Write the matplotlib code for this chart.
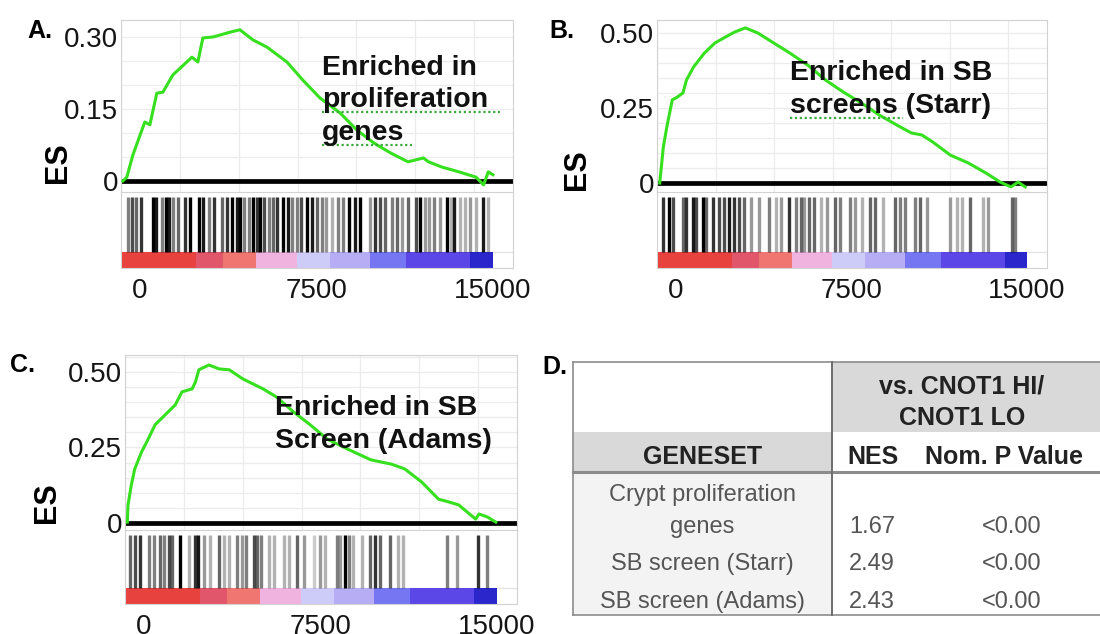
import numpy as np
import matplotlib
matplotlib.use("Agg")
import matplotlib.pyplot as plt
from matplotlib.ticker import MultipleLocator
from matplotlib.patches import Rectangle
from matplotlib.lines import Line2D

plt.rcParams['font.family'] = ['Liberation Sans', 'DejaVu Sans']

W, H = 1100, 634
XLIM = (-800, 15850)
GREEN = '#36e01f'
FRAME = '#d2d2d2'
GRID = '#ececec'

# running enrichment score (rank in ordered list, ES)
prolif_rank = [-720, -552, -297, 212, 425, 722, 977, 1402, 1997, 2210, 2465, 2677, 3102, 3400,
               3825, 4250, 4802, 5397, 6247, 6927, 7650, 8500, 9222, 9945, 10667, 11390, 12040,
               12257, 12835, 13557, 14280, 14600, 14800, 15000]
prolif_es = [0.0, 0.008, 0.054, 0.123, 0.117, 0.183, 0.185, 0.221, 0.248, 0.258, 0.248, 0.298,
             0.300, 0.304, 0.310, 0.315, 0.294, 0.279, 0.248, 0.210, 0.173, 0.142, 0.106, 0.079,
             0.058, 0.040, 0.048, 0.040, 0.029, 0.019, 0.008, -0.008, 0.019, 0.013]

starr_rank = [-683, -529, -380, -149, 77, 307, 457, 764, 1221, 1677, 2134, 2514, 2971, 3504,
              4114, 4874, 5634, 6398, 7157, 7917, 8681, 9441, 10051, 10508, 10965, 11724, 12484,
              13248, 13854, 14311, 14618, 14921]
starr_es = [0.0, 0.12, 0.187, 0.277, 0.287, 0.30, 0.343, 0.387, 0.433, 0.467, 0.487, 0.503,
            0.517, 0.50, 0.47, 0.433, 0.393, 0.343, 0.303, 0.267, 0.227, 0.193, 0.167, 0.16,
            0.137, 0.093, 0.067, 0.033, 0.003, -0.013, 0.003, -0.013]

adams_rank = [-701, -672, -531, -387, -98, 187, 476, 905, 1334, 1619, 2053, 2193, 2337, 2767,
              3196, 3629, 4203, 5062, 5635, 6354, 7068, 7786, 8645, 9647, 10510, 11084, 11798,
              12516, 12945, 13374, 14093, 14237, 14594, 14951]
adams_es = [0.003, 0.06, 0.126, 0.179, 0.235, 0.278, 0.325, 0.358, 0.391, 0.434, 0.444, 0.467,
            0.507, 0.523, 0.51, 0.507, 0.477, 0.444, 0.417, 0.368, 0.325, 0.278, 0.245, 0.209,
            0.195, 0.179, 0.136, 0.079, 0.07, 0.06, 0.013, 0.03, 0.02, 0.003]

# gene set hits along the ranked list, with how dark each tick prints
prolif_hits = [-497, -353, -170, 30, 540, 680, 922, 1105, 1245, 1415, 1628, 1912, 2125, 2520,
               2690, 2945, 3145, 3472, 3710, 3923, 4110, 4250, 4420, 4645, 4790, 4960, 5100,
               5270, 5495, 5665, 5810, 6090, 6277, 6447, 6685, 6830, 7085, 7297, 7510, 7722,
               7905, 8147, 8428, 8640, 8895, 9137, 9350, 9775, 9987, 10200, 10412, 10697,
               10910, 11122, 11403, 11730, 11900, 12112, 12295, 12495, 12750, 13034, 13205,
               13345, 13600, 13812, 14025, 14280, 14564, 14802]
prolif_shade = [0.5, 0.7, 0.6, 0.8, 1.0, 0.9, 0.5, 1.0, 0.9, 0.5, 0.6, 0.8, 1.0, 1.0, 0.9, 0.5,
                0.8, 0.6, 0.8, 1.0, 0.9, 1.0, 0.5, 0.5, 1.0, 0.8, 1.0, 0.7, 0.5, 0.6, 0.8, 1.0,
                0.9, 0.5, 0.5, 0.7, 1.0, 0.9, 0.6, 0.5, 0.4, 0.3, 0.5, 0.5, 1.0, 0.9, 1.0, 0.4,
                0.8, 0.7, 0.6, 0.5, 0.6, 0.4, 0.6, 0.7, 1.0, 0.4, 0.4, 0.5, 0.4, 1.0, 0.3, 0.9,
                0.3, 0.3, 0.4, 0.3, 0.9, 0.3]

starr_hits = [-563, -307, -137, 290, 435, 717, 862, 1144, 1289, 1571, 1857, 2070, 2283, 2497,
              2710, 2923, 3210, 3564, 3991, 4277, 4490, 4844, 5130, 5343, 5484, 5698, 5911,
              6197, 6479, 6807, 7021, 7448, 7661, 7947, 8302, 8515, 8869, 9369, 9582, 9795,
              10222, 10435, 10721, 11724, 12002, 12215, 12570, 13137, 13351, 14362, 14490]
starr_shade = [0.8, 1.0, 0.7, 0.6, 0.8, 0.9, 0.7, 1.0, 0.6, 0.8, 0.7, 0.7, 0.9, 0.8, 0.7, 0.6,
               0.4, 0.4, 0.5, 0.3, 0.4, 0.8, 0.5, 0.6, 0.4, 0.6, 0.6, 0.3, 0.4, 0.6, 0.5, 0.5,
               0.4, 0.3, 0.6, 0.6, 0.3, 0.6, 0.5, 0.5, 0.5, 0.6, 0.4, 0.4, 0.3, 0.3, 0.6, 0.3,
               0.4, 0.6, 0.5]

adams_hits = [-582, -370, -157, 200, 412, 693, 837, 1050, 1190, 1543, 1900, 2180, 2295, 2537,
              2818, 3175, 3387, 3600, 3952, 4165, 4335, 4662, 4802, 4985, 5300, 5512, 5937,
              6150, 6502, 6787, 7212, 7480, 7692, 8190, 8330, 8542, 8725, 8895, 9252, 9605,
              9817, 10030, 10455, 10807, 11020, 12890, 13290, 14207, 14564]
adams_shade = [0.6, 0.7, 0.8, 0.5, 0.5, 0.6, 0.5, 0.7, 0.6, 1.0, 0.3, 0.8, 0.9, 0.4, 0.3, 0.6,
               0.3, 0.3, 0.5, 0.4, 0.5, 0.7, 0.6, 0.5, 0.3, 0.3, 0.3, 0.3, 0.6, 0.4, 0.2, 0.4,
               0.3, 0.5, 0.4, 1.0, 0.5, 0.3, 0.3, 0.6, 0.8, 0.6, 0.6, 0.3, 0.3, 0.5, 0.4, 0.8,
               0.5]

# ranked list metric colour bar (same ranking for every gene set)
rank_edges = [-800, 2400, 3550, 4950, 6680, 8075, 9780, 11320, 14040, 15000]
rank_colors = ['#e8423e', '#e2566c', '#f07672', '#f0b2de', '#cdcbf7', '#b6adf5', '#7676f3',
               '#5b46e8', '#2a26cc']

x_ticks = [0, 7500, 15000]

# summary table
genesets = ['Crypt proliferation\ngenes', 'SB screen (Starr)', 'SB screen (Adams)']
nes_values = [1.67, 2.49, 2.43]
p_values = ['<0.00', '<0.00', '<0.00']


def px_axes(fig, x0, y0, x1, y1):
    return fig.add_axes([x0 / W, 1 - y1 / H, (x1 - x0) / W, (y1 - y0) / H])


def ftext(fig, x, y, s, **kw):
    return fig.text(x / W, 1 - y / H, s, **kw)


def gsea_panel(fig, x0, x1, y_top, y_mid, y_bot, ranks, es, hits, shade, ylim, yticks, ylabels):
    ax = px_axes(fig, x0, y_top, x1, y_mid)
    ax.plot(ranks, es, color=GREEN, lw=2.2, zorder=3)
    ax.axhline(0, color='black', lw=3.4, zorder=2)
    ax.set_xlim(*XLIM)
    ax.set_ylim(*ylim)
    ax.set_xticks([])
    ax.xaxis.set_minor_locator(MultipleLocator(2500, offset=1700))
    ax.set_yticks(yticks)
    ax.set_yticklabels(ylabels, fontsize=20, color='#151515')
    ax.yaxis.set_minor_locator(MultipleLocator(0.05))
    ax.tick_params(which='both', length=0, pad=2)
    ax.grid(which='both', axis='y', color=GRID, lw=0.9)
    ax.grid(which='minor', axis='x', color=GRID, lw=0.9)
    for sp in ax.spines.values():
        sp.set_color(FRAME)
    ax.spines['bottom'].set_visible(False)

    bx = px_axes(fig, x0, y_mid, x1, y_bot)
    bx.set_xlim(*XLIM)
    bx.set_ylim(0, 1)
    cb_h = 0.21
    bx.vlines(hits, cb_h, 0.93, colors=[(0, 0, 0, a) for a in shade], lw=2.4)
    bx.bar(rank_edges[:-1], cb_h, width=np.diff(rank_edges), align='edge',
           color=rank_colors, lw=0)
    bx.axhline(cb_h, color='#e2e2e2', lw=0.9, zorder=0)
    bx.set_yticks([])
    bx.set_xticks(x_ticks)
    bx.set_xticklabels([str(t) for t in x_ticks], fontsize=20, color='#151515')
    bx.tick_params(length=0, pad=7)
    for sp in bx.spines.values():
        sp.set_color(FRAME)
    return ax, bx


fig = plt.figure(figsize=(W / 100, H / 100), dpi=100)

gsea_panel(fig, 121, 513, 20, 192, 268, prolif_rank, prolif_es, prolif_hits, prolif_shade,
           (-0.0229, 0.3354), [0, 0.15, 0.30], ['0', '0.15', '0.30'])
gsea_panel(fig, 657, 1047, 20, 192, 268, starr_rank, starr_es, starr_hits, starr_shade,
           (-0.03, 0.5433), [0, 0.25, 0.5], ['0', '0.25', '0.50'])
gsea_panel(fig, 125, 517, 355, 530, 604, adams_rank, adams_es, adams_hits, adams_shade,
           (-0.023, 0.556), [0, 0.25, 0.5], ['0', '0.25', '0.50'])

# annotations, placed by the baseline of their last line
bold = dict(fontsize=20.5, fontweight='bold', color='#111111', va='baseline', ha='left',
            linespacing=1.33)
ftext(fig, 322, 140, 'Enriched in\nproliferation\ngenes', **bold)
ftext(fig, 790, 113, 'Enriched in SB\nscreens (Starr)', **bold)
ftext(fig, 275, 448, 'Enriched in SB\nScreen (Adams)', **bold)

# spell-check squiggles under the annotation words
for xa, xb, y in [(322, 500, 112), (322, 412, 145), (790, 903, 118)]:
    fig.add_artist(Line2D([xa / W, xb / W], [1 - y / H] * 2, transform=fig.transFigure,
                          ls=(0, (1, 1.2)), color='#3da83d', lw=1.6))

ylab = dict(fontsize=22, fontweight='bold', rotation=90, ha='center', va='center')
ftext(fig, 58, 163, 'ES', **ylab)
ftext(fig, 577, 170, 'ES', **ylab)
ftext(fig, 47, 503, 'ES', **ylab)

letter = dict(fontsize=18, fontweight='bold', va='baseline')
ftext(fig, 27, 38, 'A.', **letter)
ftext(fig, 549, 38, 'B.', **letter)
ftext(fig, 10, 372, 'C.', **letter)
ftext(fig, 567, 374, 'D.', ha='right', **letter)

# table D, drawn in pixel space
tb = fig.add_axes([0, 0, 1, 1], zorder=-1)
tb.set_xlim(0, W)
tb.set_ylim(H, 0)
tb.axis('off')
left, mid, right = 573, 832, 1100
top, r1, r2, bottom = 362, 432, 472, 615
tb.add_patch(Rectangle((mid, top), right - mid, r1 - top, fc='#d9d9d9', ec='none'))
tb.add_patch(Rectangle((left, r1), mid - left, r2 - r1, fc='#d9d9d9', ec='none'))
tb.add_patch(Rectangle((left, r2), mid - left, bottom - r2, fc='#f3f3f3', ec='none'))
tb.plot([left, right], [top, top], color='#8c8c8c', lw=1.2)
tb.plot([left, right], [bottom, bottom], color='#8c8c8c', lw=1.2)
tb.plot([left, right], [r2, r2], color='#8c8c8c', lw=2.2)
tb.plot([left, left], [top, bottom], color='#8c8c8c', lw=1.2)
tb.plot([mid, mid], [top, bottom], color='#6e6e6e', lw=1.4)

hdr = dict(fontsize=18, fontweight='bold', color='#222222', va='center')
tb.text(962, 402, 'vs. CNOT1 HI/\nCNOT1 LO', ha='center', linespacing=1.41, **hdr)
tb.text((left + mid) / 2, 457, 'GENESET', ha='center', **hdr)
tb.text(873, 457, 'NES', ha='center', **hdr)
tb.text(925, 457, 'Nom. P Value', ha='left', **hdr)

body = dict(fontsize=17, color='#555555', va='baseline')
row_base = [533, 570, 608]
for name, nes, p, yb in zip(genesets, nes_values, p_values, row_base):
    tb.text((left + mid) / 2, yb, name, ha='center', linespacing=1.59, **body)
    tb.text(872, yb, f'{nes:.2f}', ha='center', **body)
    tb.text(1012, yb, p, ha='center', **body)

fig.savefig('out.png', dpi=100)
